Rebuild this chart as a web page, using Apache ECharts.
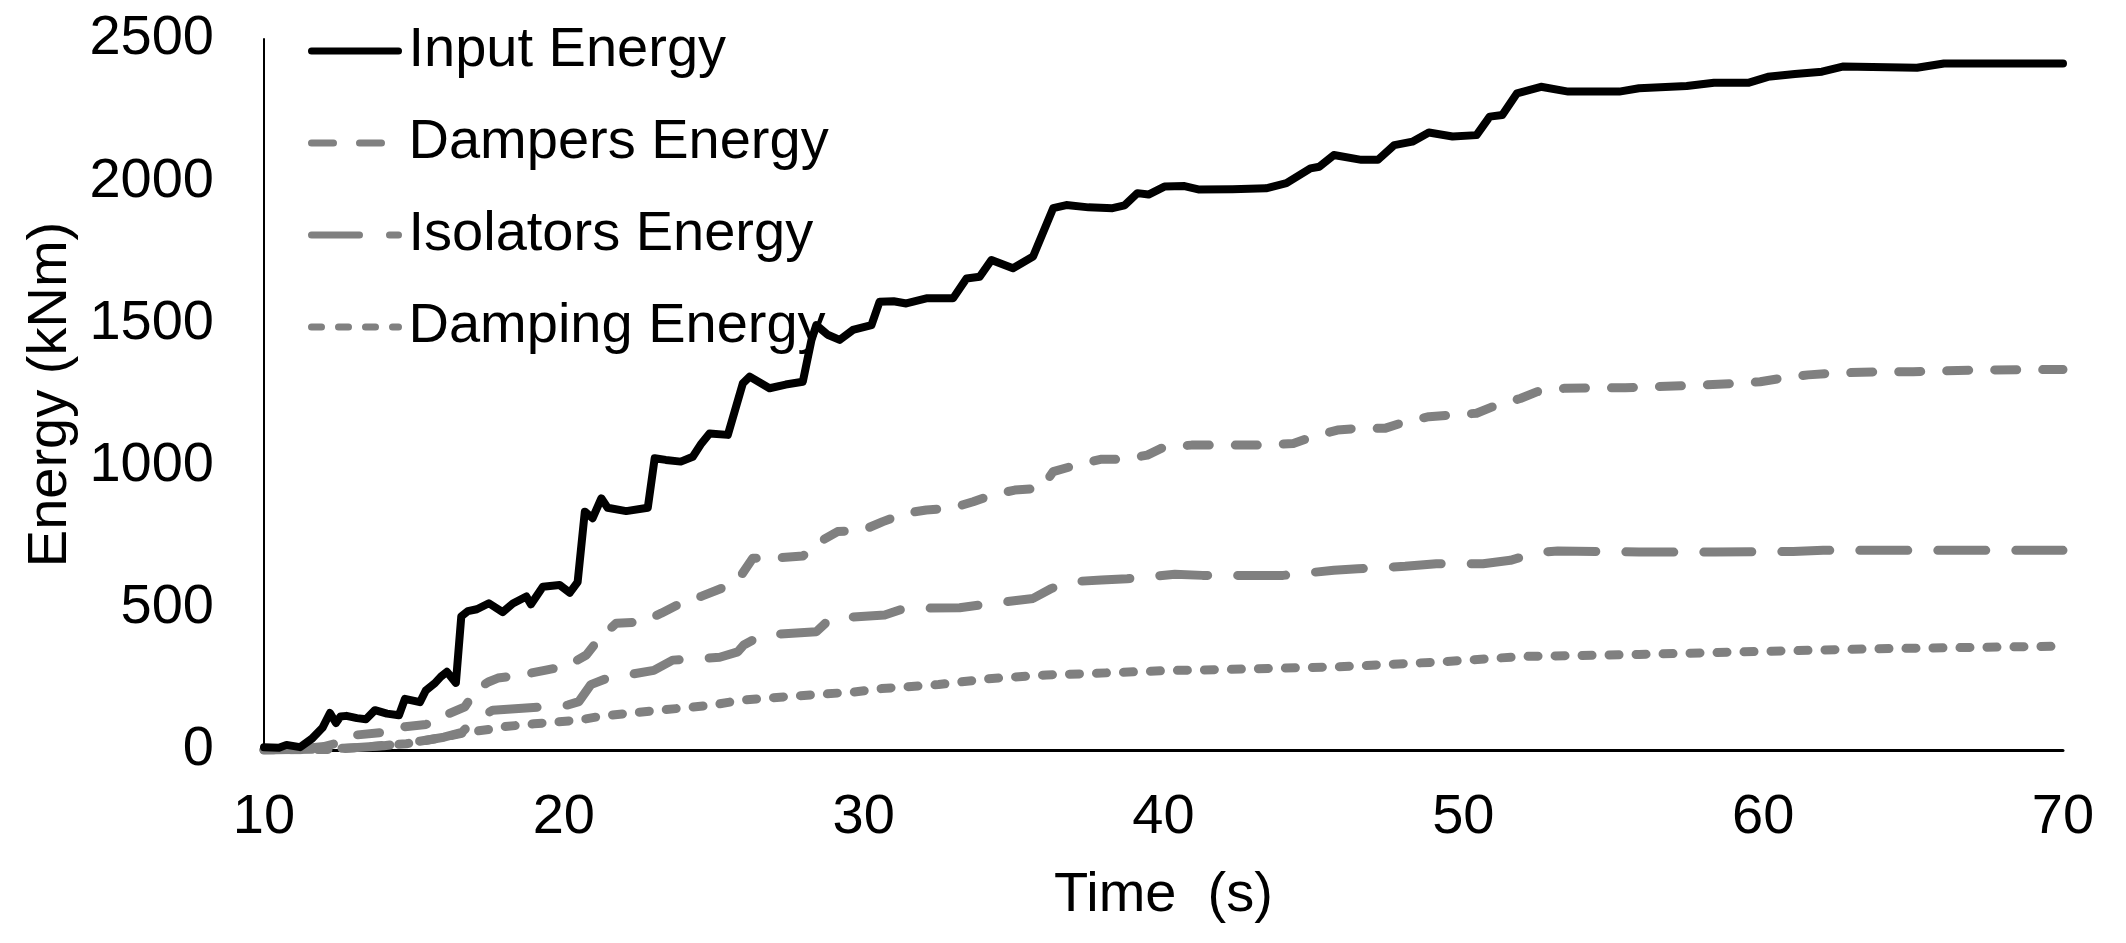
<!DOCTYPE html>
<html>
<head>
<meta charset="utf-8">
<script src="https://cdn.jsdelivr.net/npm/echarts@6/dist/echarts.min.js"></script>
<style>
html,body{margin:0;padding:0;background:#fff;}
#chart{width:2126px;height:943px;}
</style>
</head>
<body>
<div id="chart"></div>
<script>
const seriesNames = ['Input Energy', 'Dampers Energy', 'Isolators Energy', 'Damping Energy'];
const xTicks = [10, 20, 30, 40, 50, 60, 70];
const yTicks = [0, 500, 1000, 1500, 2000, 2500];

// [time (s), energy (kNm)]
const inputEnergy = [[10,10],[10.5,8],[10.75,18],[11.2,10],[11.6,40],[11.95,78],[12.2,130],[12.4,95],[12.55,118],[12.75,120],[13.1,112],[13.4,108],[13.7,140],[14.1,128],[14.5,122],[14.7,180],[15.2,168],[15.4,210],[15.7,235],[15.9,258],[16.1,275],[16.4,236],[16.58,470],[16.8,488],[17.1,495],[17.5,516],[17.96,485],[18.3,515],[18.75,540],[18.9,512],[19.3,574],[19.86,580],[20.2,553],[20.46,590],[20.7,838],[20.96,815],[21.25,885],[21.46,852],[22.08,840],[22.8,852],[23.03,1026],[23.4,1020],[23.9,1014],[24.3,1031],[24.59,1078],[24.86,1113],[25.47,1108],[25.97,1289],[26.2,1313],[26.86,1272],[27.4,1285],[27.97,1295],[28.26,1442],[28.42,1494],[28.8,1460],[29.2,1442],[29.64,1477],[30.26,1494],[30.53,1576],[31.0,1578],[31.42,1570],[32.09,1588],[32.98,1588],[33.43,1658],[33.87,1664],[34.26,1723],[34.98,1694],[35.65,1735],[36.32,1905],[36.76,1916],[37.5,1908],[38.3,1905],[38.7,1915],[39.13,1958],[39.5,1953],[40.03,1981],[40.7,1983],[41.16,1971],[42.3,1972],[43.42,1975],[44.1,1993],[44.9,2045],[45.2,2051],[45.68,2092],[46.6,2075],[47.15,2075],[47.7,2127],[48.3,2139],[48.85,2171],[49.64,2157],[50.44,2162],[50.88,2227],[51.3,2233],[51.79,2309],[52.59,2332],[53.5,2315],[55.2,2315],[55.86,2327],[57.45,2335],[58.36,2346],[59.5,2346],[60.16,2367],[61.06,2377],[61.96,2385],[62.65,2403],[65.13,2399],[66.03,2414],[70,2414]];

const dampersEnergy = [[10,0],[11,2],[12,12],[12.8,35],[13.1,53],[13.9,61],[14.7,82],[15.4,90],[15.8,100],[16.1,125],[16.7,152],[17.1,215],[17.5,240],[17.8,253],[18.6,264],[19.4,281],[20.1,295],[20.75,334],[21.2,394],[21.75,446],[22.6,450],[23.25,481],[23.9,516],[24.6,541],[25.25,568],[25.92,615],[26.3,674],[27.2,676],[27.97,682],[28.53,732],[29.13,768],[29.97,773],[30.64,803],[31.37,832],[32.09,844],[32.93,850],[33.65,873],[34.3,897],[35.04,914],[35.93,920],[36.32,979],[37.1,1002],[37.9,1022],[38.7,1022],[39.46,1037],[40.03,1066],[40.93,1072],[43.42,1072],[44.33,1078],[45.0,1102],[45.8,1125],[46.5,1131],[47.38,1131],[48.06,1154],[48.85,1172],[49.65,1178],[50.44,1184],[51.12,1213],[51.9,1236],[52.47,1260],[53.38,1272],[55.4,1274],[57.45,1281],[59.14,1289],[59.9,1295],[60.6,1307],[61.5,1319],[62.3,1325],[63.9,1330],[65,1330],[67,1336],[70,1338]];

const isolatorsEnergy = [[10,0],[12,3],[13,8],[14,15],[15.08,29],[16.0,45],[16.6,62],[16.97,100],[17.63,140],[19.36,152],[20.13,158],[20.5,170],[20.9,230],[21.46,253],[22.13,264],[23.0,280],[23.63,316],[24.4,320],[25.2,326],[25.8,345],[26.0,369],[26.6,404],[28.42,416],[28.9,463],[30.7,475],[31.37,498],[33.2,500],[33.9,510],[35.65,533],[36.26,568],[37.0,592],[37.93,598],[38.79,602],[40.38,618],[41.3,614],[43.99,614],[45.68,632],[46.48,637],[48.06,646],[49.1,655],[50.66,655],[51.57,667],[52.5,695],[53.15,700],[55.86,696],[58.4,696],[61,698],[62,702],[70,702]];

const dampingEnergy = [[10,0],[12.25,2],[14.75,22],[15.1,28],[16.0,45],[16.75,62],[17.5,72],[17.8,80],[19,92],[20.5,105],[21.3,120],[23,138],[24.9,157],[25.9,175],[27.5,188],[29.67,204],[30.6,216],[32.5,230],[34.1,250],[36.1,264],[37.3,268],[40.3,280],[41.16,281],[45.68,292],[49.1,309],[52.0,329],[55.86,336],[59.26,345],[63.8,356],[70,365]];

const FONT = "'Liberation Sans', Arial, sans-serif";
const GRAY = '#808080';

const chart = echarts.init(document.getElementById('chart'), null, {renderer: 'canvas'});
chart.setOption({
  backgroundColor: '#ffffff',
  animation: false,
  textStyle: {fontFamily: FONT},
  grid: {left: 264, right: 63, top: 39, bottom: 193, containLabel: false},
  legend: {
    orient: 'vertical',
    left: 308,
    top: 23,
    padding: 0,
    itemWidth: 87,
    itemHeight: 14,
    itemGap: 36,
    data: seriesNames,
    itemStyle: {opacity: 0},
    lineStyle: {width: 7},
    textStyle: {fontSize: 56, color: '#000', fontFamily: FONT, padding: [0, 0, 0, 5]}
  },
  xAxis: {
    type: 'value',
    min: xTicks[0],
    max: xTicks[xTicks.length - 1],
    interval: 10,
    name: 'Time  (s)',
    nameLocation: 'middle',
    nameGap: 118,
    nameTextStyle: {fontSize: 56, color: '#000', fontFamily: FONT},
    axisLine: {show: true, onZero: false, lineStyle: {color: '#000', width: 3}},
    axisTick: {show: false},
    splitLine: {show: false},
    axisLabel: {fontSize: 56, color: '#000', margin: 40, fontFamily: FONT}
  },
  yAxis: {
    type: 'value',
    min: yTicks[0],
    max: yTicks[yTicks.length - 1],
    interval: 500,
    name: 'Energy (kNm)',
    nameLocation: 'middle',
    nameGap: 176,
    nameTextStyle: {fontSize: 56, color: '#000', fontFamily: FONT},
    axisLine: {show: true, lineStyle: {color: '#000', width: 2}},
    axisTick: {show: false},
    splitLine: {show: false},
    axisLabel: {fontSize: 56, color: '#000', margin: 50, fontFamily: FONT, formatter: function (v) { return String(v); }}
  },
  series: [
    {
      name: seriesNames[0], type: 'line', data: inputEnergy, symbol: 'none', showSymbol: false, z: 5,
      lineStyle: {color: '#000', width: 8, join: 'round', cap: 'round'},
      itemStyle: {color: '#000'}
    },
    {
      name: seriesNames[1], type: 'line', data: dampersEnergy, symbol: 'none', showSymbol: false, z: 4,
      lineStyle: {color: GRAY, width: 9, type: [22, 26], cap: 'round', join: 'round'},
      itemStyle: {color: GRAY}
    },
    {
      name: seriesNames[2], type: 'line', data: isolatorsEnergy, symbol: 'none', showSymbol: false, z: 3,
      lineStyle: {color: GRAY, width: 9, type: [48, 30], cap: 'round', join: 'round'},
      itemStyle: {color: GRAY}
    },
    {
      name: seriesNames[3], type: 'line', data: dampingEnergy, symbol: 'none', showSymbol: false, z: 2,
      lineStyle: {color: GRAY, width: 9, type: [10, 17], cap: 'round', join: 'round'},
      itemStyle: {color: GRAY}
    }
  ]
});
</script>
</body>
</html>
